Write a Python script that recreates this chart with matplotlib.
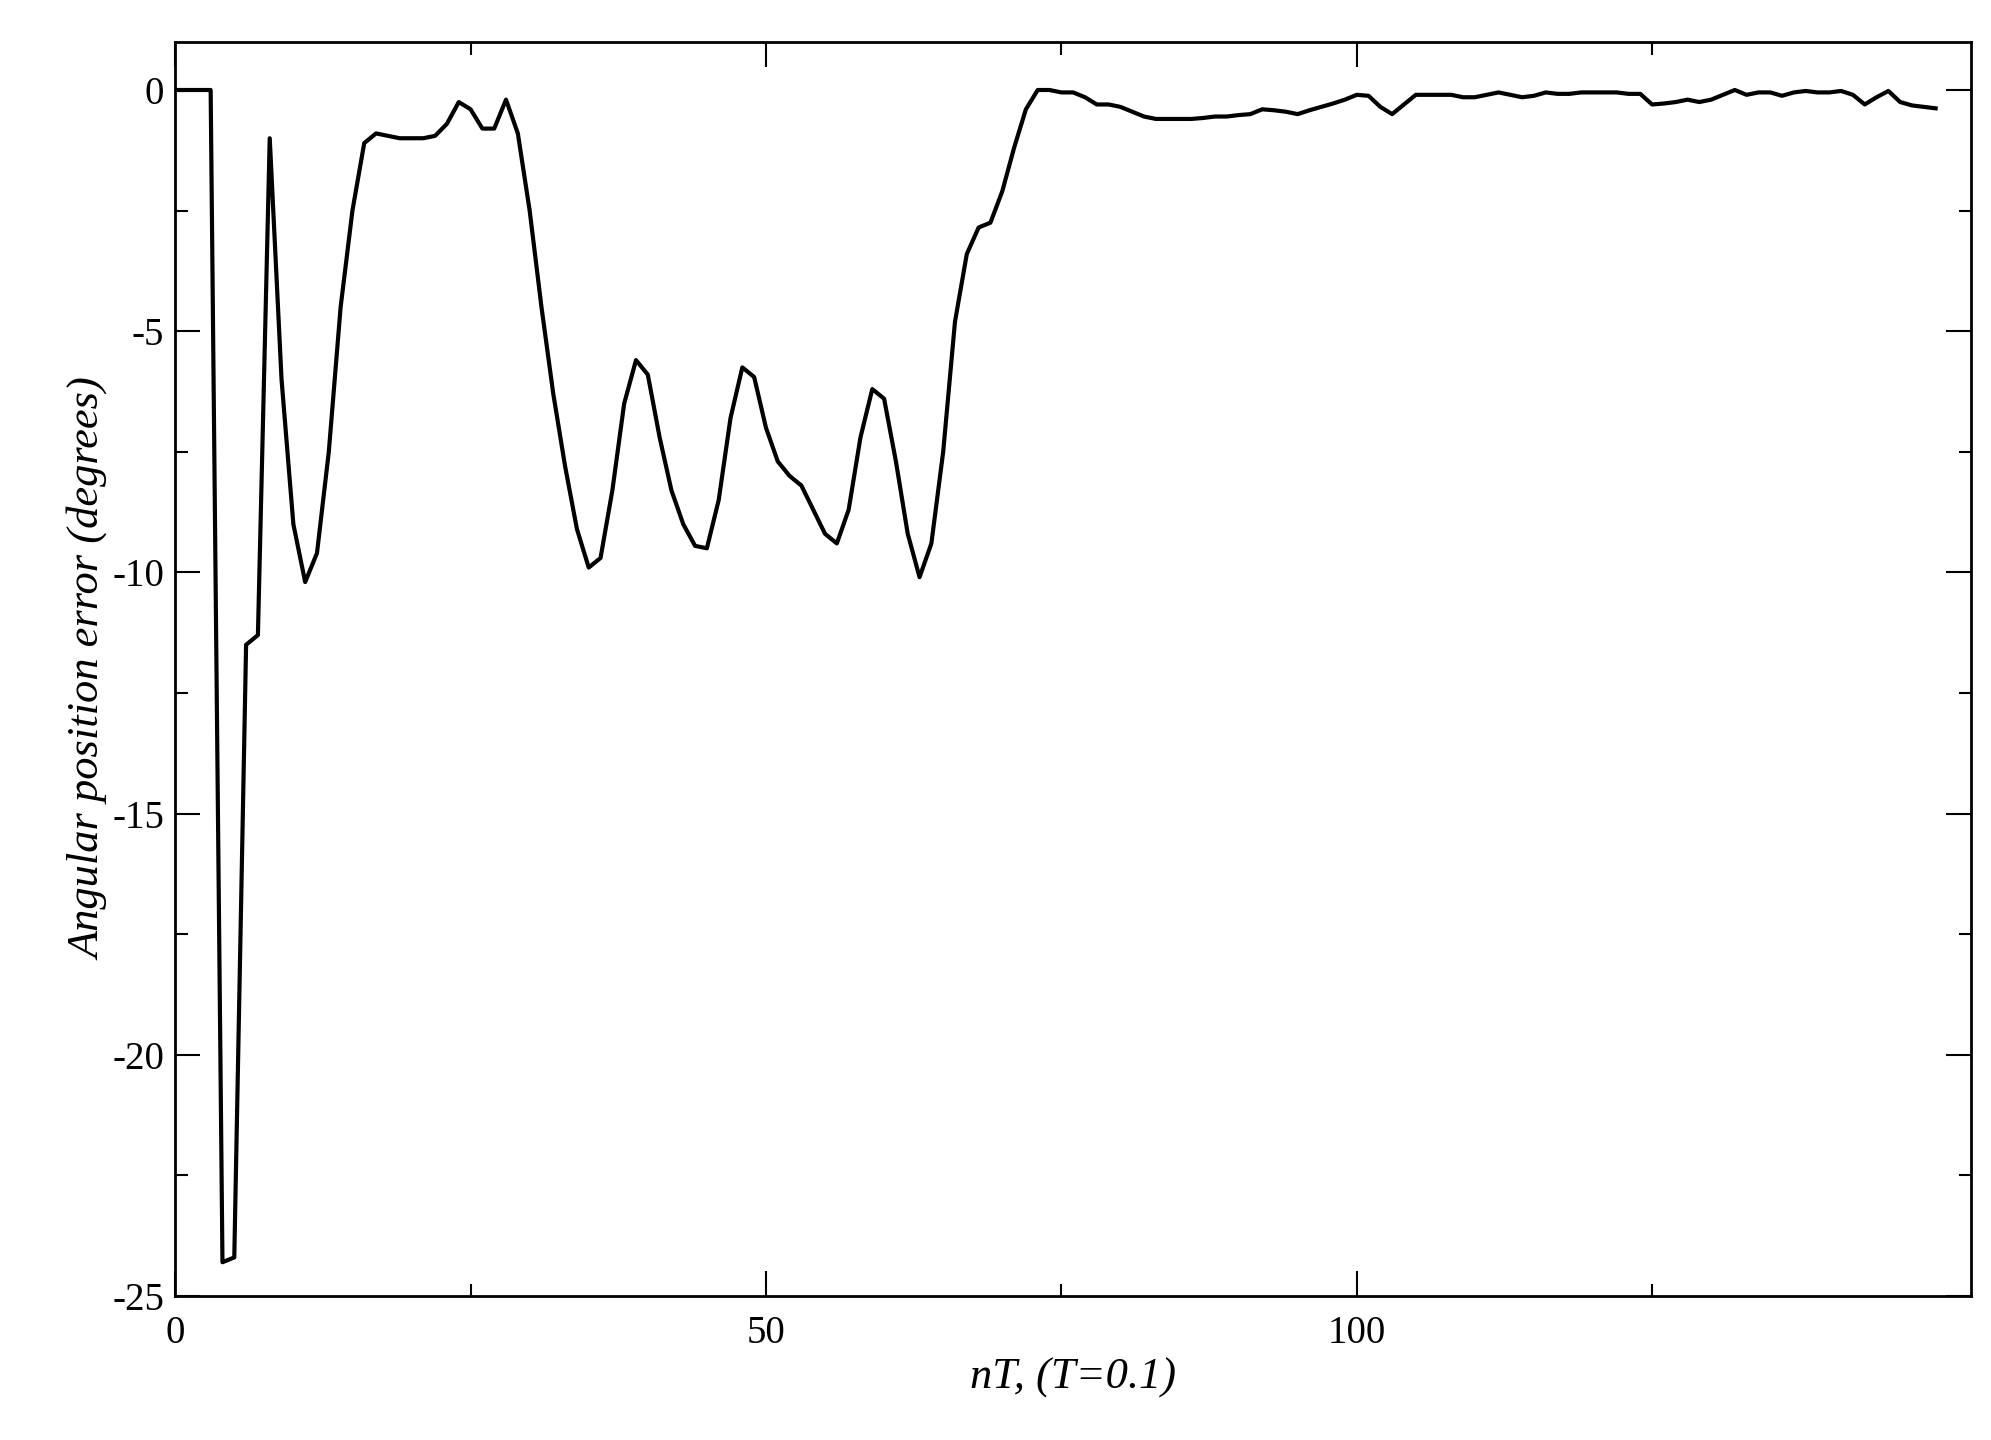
import matplotlib.pyplot as plt
from matplotlib.ticker import MultipleLocator

plt.rcParams['font.family'] = ['Liberation Serif', 'DejaVu Serif']
plt.rcParams['axes.unicode_minus'] = False

# error values, one per step n = 0..149
err = [0, 0, 0, 0, -24.3, -24.2, -11.5, -11.3, -1.0, -6.0,
       -9.0, -10.2, -9.6, -7.5, -4.5, -2.5, -1.1, -0.9, -0.95, -1.0,
       -1.0, -1.0, -0.95, -0.7, -0.25, -0.4, -0.8, -0.8, -0.2, -0.9,
       -2.5, -4.5, -6.3, -7.8, -9.1, -9.9, -9.7, -8.3, -6.5, -5.6,
       -5.9, -7.2, -8.3, -9.0, -9.45, -9.5, -8.5, -6.8, -5.75, -5.95,
       -7.0, -7.7, -8.0, -8.2, -8.7, -9.2, -9.4, -8.7, -7.2, -6.2,
       -6.4, -7.7, -9.2, -10.1, -9.4, -7.5, -4.8, -3.4, -2.85, -2.75,
       -2.1, -1.2, -0.4, 0.0, 0.0, -0.05, -0.05, -0.15, -0.3, -0.3,
       -0.35, -0.45, -0.55, -0.6, -0.6, -0.6, -0.6, -0.58, -0.55, -0.55,
       -0.52, -0.5, -0.4, -0.42, -0.45, -0.5, -0.42, -0.35, -0.28, -0.2,
       -0.1, -0.12, -0.35, -0.5, -0.3, -0.1, -0.1, -0.1, -0.1, -0.15,
       -0.15, -0.1, -0.05, -0.1, -0.15, -0.12, -0.05, -0.08, -0.08, -0.05,
       -0.05, -0.05, -0.05, -0.08, -0.08, -0.3, -0.28, -0.25, -0.2, -0.25,
       -0.2, -0.1, 0.0, -0.1, -0.05, -0.05, -0.12, -0.05, -0.02, -0.05,
       -0.05, -0.02, -0.1, -0.3, -0.15, -0.02, -0.25, -0.32, -0.35, -0.38]
n = list(range(len(err)))

fig = plt.figure(figsize=(19.91, 14.4), dpi=100)
ax = fig.add_axes([0.088, 0.10, 0.902, 0.871])
ax.plot(n, err, color='black', linewidth=3.0)
ax.set_xlim(0, 152)
ax.set_ylim(-25, 1)
ax.set_xticks([0, 50, 100])
ax.set_xticks([25, 75, 125], minor=True)
ax.yaxis.set_major_locator(MultipleLocator(5))
ax.yaxis.set_minor_locator(MultipleLocator(2.5))
ax.tick_params(which='both', direction='in', top=True, right=True, width=1.5, labelsize=28)
ax.tick_params(axis='x', pad=14)
ax.tick_params(axis='y', pad=8)
ax.tick_params(which='major', length=18)
ax.tick_params(which='minor', length=9)
for s in ax.spines.values():
    s.set_linewidth(2)
ax.set_xlabel('nT, (T=0.1)', fontsize=32, style='italic', labelpad=4)
ax.set_ylabel('Angular position error (degrees)', fontsize=32, style='italic', labelpad=2)
fig.savefig('out.png', dpi=100)
